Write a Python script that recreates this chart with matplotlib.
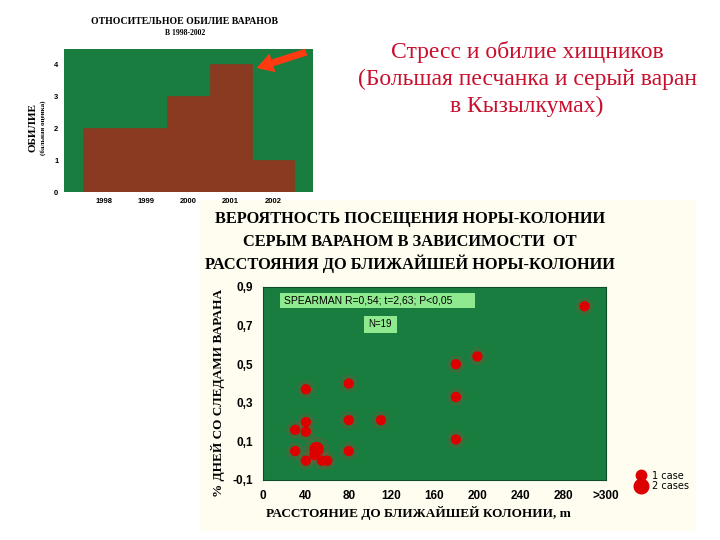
import matplotlib
matplotlib.use("Agg")
import matplotlib.pyplot as plt
from matplotlib.patches import Rectangle
from matplotlib.lines import Line2D

# top chart: relative abundance of monitor lizards
years = ["1998", "1999", "2000", "2001", "2002"]
abundance = [2, 2, 3, 4, 1]

# bottom chart: distance to nearest colony vs share of days with tracks
dist = [300, 200, 180, 180, 180, 40, 80, 80, 110, 40, 30, 40, 30, 80, 40, 50, 48, 55, 60]
share = [0.80, 0.54, 0.50, 0.33, 0.11, 0.37, 0.40, 0.21, 0.21, 0.20, 0.16, 0.15,
         0.05, 0.05, 0.00, 0.06, 0.03, 0.00, 0.00]
cases = [1, 1, 1, 1, 1, 1, 1, 1, 1, 1, 1, 1, 1, 1, 1, 2, 1, 1, 1]
x_ticks = [0, 40, 80, 120, 160, 200, 240, 280, 320]
x_labels = ["0", "40", "80", "120", "160", "200", "240", "280", ">300"]
y_ticks = [-0.1, 0.1, 0.3, 0.5, 0.7, 0.9]
y_labels = ["-0,1", "0,1", "0,3", "0,5", "0,7", "0,9"]

GREEN = "#1a7d40"
BAR = "#8b3a22"
LIGHT = "#8fea8f"
SERIF = ["Liberation Serif", "DejaVu Serif"]
SANS = ["Liberation Sans", "DejaVu Sans"]

fig = plt.figure(figsize=(7.2, 5.4), dpi=100)
fig.patches.append(Rectangle((200 / 720, 10 / 540), 495 / 720, 330 / 540,
                             transform=fig.transFigure, color="#fffdf0", zorder=-5))

# ---- top bar chart
ax1 = fig.add_axes([64 / 720, 1 - 192 / 540, 249 / 720, 143 / 540])
ax1.set_facecolor(GREEN)
ax1.bar(range(len(years)), abundance, width=1.0, color=BAR, edgecolor=BAR, linewidth=0.5)
ax1.set_xlim(-0.95, 4.95)
ax1.set_ylim(0, 4.47)
ax1.set_xticks(range(len(years)))
ax1.set_xticklabels(years)
ax1.set_yticks(range(5))
ax1.tick_params(length=0, labelsize=5.5, pad=4)
for lab in ax1.get_xticklabels() + ax1.get_yticklabels():
    lab.set_fontfamily(SANS)
    lab.set_fontweight("bold")
for s in ax1.spines.values():
    s.set_visible(False)
ax1.annotate("", xy=(3.55, 3.85), xytext=(4.85, 4.4),
             arrowprops=dict(arrowstyle="simple,head_width=1.4,head_length=1.2,tail_width=0.5",
                             color="#ff3a10", lw=0))
fig.text(185 / 720, 1 - 22 / 540, "ОТНОСИТЕЛЬНОЕ ОБИЛИЕ ВАРАНОВ", ha="center", va="center",
         fontsize=7, fontweight="bold", family=SERIF)
fig.text(185 / 720, 1 - 33 / 540, "В 1998-2002", ha="center", va="center",
         fontsize=5.5, fontweight="bold", family=SERIF)
fig.text(33 / 720, 1 - 128 / 540, "ОБИЛИЕ", ha="center", va="center", rotation=90,
         fontsize=8, fontweight="bold", family=SERIF)
fig.text(43 / 720, 1 - 128 / 540, "(бальная оценка)", ha="center", va="center", rotation=90,
         fontsize=5, fontweight="bold", family=SERIF)

# ---- heading on the right
fig.text(527 / 720, 1 - 79 / 540,
         "Стресс и обилие хищников\n(Большая песчанка и серый варан\nв Кызылкумах)",
         ha="center", va="center", color="#c8102e", fontsize=17, family=SERIF,
         linespacing=1.38)

# ---- bottom scatter
ax2 = fig.add_axes([263 / 720, 1 - 480 / 540, 343 / 720, 193 / 540])
ax2.set_facecolor(GREEN)
sizes = [55 if c == 1 else 110 for c in cases]
ax2.scatter(dist, share, s=[v * 3 for v in sizes], color="#ff2020", alpha=0.12, lw=0, zorder=2)
ax2.scatter(dist, share, s=sizes, color="#dd0000", lw=0, zorder=3)
ax2.set_xlim(0, 320)
ax2.set_ylim(-0.1, 0.9)
ax2.set_xticks(x_ticks)
ax2.set_xticklabels(x_labels)
ax2.set_yticks(y_ticks)
ax2.set_yticklabels(y_labels)
ax2.tick_params(length=0, labelsize=8.5, pad=7)
for lab in ax2.get_xticklabels() + ax2.get_yticklabels():
    lab.set_fontfamily(SANS)
    lab.set_fontweight("bold")
for s in ax2.spines.values():
    s.set_color("#0d4d25")
    s.set_linewidth(0.8)

# stats boxes
ax2.add_patch(Rectangle((0.0496, 0.891), 0.568, 0.078, transform=ax2.transAxes,
                        fc=LIGHT, ec="none", zorder=4))
ax2.text(0.061, 0.93, "SPEARMAN R=0,54; t=2,63; P<0,05", transform=ax2.transAxes,
         fontsize=7.5, family=SANS, va="center", ha="left", zorder=5)
ax2.add_patch(Rectangle((0.294, 0.762), 0.097, 0.088, transform=ax2.transAxes,
                        fc=LIGHT, ec="none", zorder=4))
ax2.text(0.3425, 0.806, "N=19", transform=ax2.transAxes, fontsize=7, family=SANS,
         va="center", ha="center", zorder=5)

handles = [Line2D([], [], marker="o", ls="", color="#dd0000", markersize=7.5),
           Line2D([], [], marker="o", ls="", color="#dd0000", markersize=10.5)]
fig.legend(handles, ["1 case", "2 cases"], loc="center left",
           bbox_to_anchor=(630 / 720, 1 - 481 / 540), frameon=False, fontsize=7,
           handletextpad=0.6, labelspacing=0.05, borderpad=0, handlelength=1.2)

fig.text(410 / 720, 1 - 219 / 540, "ВЕРОЯТНОСТЬ ПОСЕЩЕНИЯ НОРЫ-КОЛОНИИ", ha="center",
         va="center", fontsize=11.8, fontweight="bold", family=SERIF)
fig.text(410 / 720, 1 - 242 / 540, "СЕРЫМ ВАРАНОМ В ЗАВИСИМОСТИ  ОТ", ha="center",
         va="center", fontsize=11.8, fontweight="bold", family=SERIF)
fig.text(410 / 720, 1 - 264 / 540, "РАССТОЯНИЯ ДО БЛИЖАЙШЕЙ НОРЫ-КОЛОНИИ", ha="center",
         va="center", fontsize=11.8, fontweight="bold", family=SERIF)
fig.text(218 / 720, 1 - 393 / 540, "% ДНЕЙ СО СЛЕДАМИ ВАРАНА", ha="center", va="center",
         rotation=90, fontsize=9.5, fontweight="bold", family=SERIF)
fig.text(418 / 720, 1 - 513 / 540, "РАССТОЯНИЕ ДО БЛИЖАЙШЕЙ КОЛОНИИ, m", ha="center",
         va="center", fontsize=9.5, fontweight="bold", family=SERIF)

fig.savefig("out.png", dpi=100)
